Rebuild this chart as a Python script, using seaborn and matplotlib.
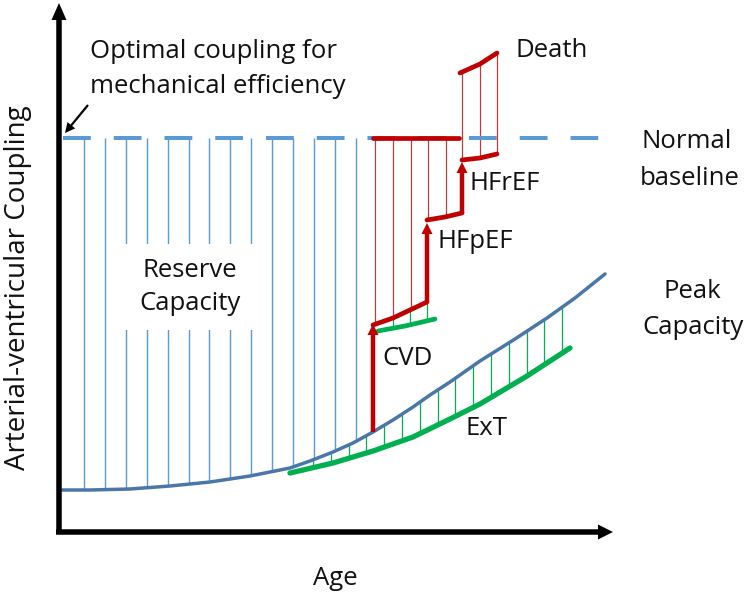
import numpy as np
import pandas as pd
import matplotlib
matplotlib.use("Agg")
import matplotlib.pyplot as plt
import seaborn as sns

# ---------------- data (age units, coupling units) ----------------
peak_age = [1, 31, 71, 111, 151, 191, 231, 251, 274, 294, 314, 334, 354, 371, 391, 421, 456, 488, 516, 546]
peak_coupling = [41, 41, 42, 45, 49, 55, 63, 70, 79, 88, 99, 111, 124, 136, 149, 170, 192, 213, 233, 257]

ext_age = [231, 274, 314, 354, 391, 421, 468, 511]
ext_coupling = [58, 68, 80, 94, 112, 127, 155, 183]

baseline_coupling = 393
baseline_age = [4, 560]

cvd_age = [314, 334, 351, 368]
cvd_coupling = [206, 213, 221, 229]
cvd_green_age = [319, 346, 376]
cvd_green_coupling = [200, 205, 212]
hfpef_age = [368, 386, 403]
hfpef_coupling = [311, 314, 318]
hfref_age = [403, 421, 438]
hfref_coupling = [371, 373, 377]
death_age = [401, 421, 438]
death_coupling = [458, 467, 478]
red_base_age = [314, 400]

# ---------------- style ----------------
sns.set_style("white")
plt.rcParams["font.family"] = ["Open Sans", "DejaVu Sans"]

BLUE_CURVE = "#4a76a8"
BLUE_LIGHT = "#5b9bd5"
RED = "#c00000"
RED_THIN = "#cc3333"
GREEN = "#00b050"
TXT = "#111111"
FS = 18.5

fig = plt.figure(figsize=(7.55, 5.95), dpi=100)
ax = fig.add_axes([0, 0, 1, 1])
ax.set_xlim(-59, 696)
ax.set_ylim(-64, 531)
ax.axis("off")

# reserve capacity hatching (blue)
hx = np.arange(25, 300, 20.9)
ax.vlines(hx, np.interp(hx, peak_age, peak_coupling), baseline_coupling,
          color=BLUE_LIGHT, lw=1.0, zorder=1)

# green ExT hatching
gx = np.arange(254, 506, 17.8)
ax.vlines(gx, np.interp(gx, ext_age, ext_coupling), np.interp(gx, peak_age, peak_coupling),
          color=GREEN, lw=0.9, zorder=1)

# red hatching (disease)
rx = np.arange(316, 395, 17.8)
rbottom = np.where(rx < 368, np.interp(rx, cvd_age, cvd_coupling),
                   np.interp(rx, hfpef_age, hfpef_coupling))
ax.vlines(rx, rbottom, baseline_coupling, color=RED_THIN, lw=0.85, zorder=1)
dx = np.array([403, 421, 438])
ax.vlines(dx, np.interp(dx, hfref_age, hfref_coupling), np.interp(dx, death_age, death_coupling),
          color=RED_THIN, lw=0.85, zorder=1)
cgx = np.array([334, 351, 368])
ax.vlines(cgx, np.interp(cgx, cvd_green_age, cvd_green_coupling), np.interp(cgx, cvd_age, cvd_coupling),
          color=GREEN, lw=0.9, zorder=1)

# normal baseline dashed
sns.lineplot(x=baseline_age, y=[baseline_coupling] * 2, ax=ax, color=BLUE_LIGHT, lw=2.9,
             linestyle=(0, (6.9, 5.7)), estimator=None, zorder=2)
ax.lines[-1].set_dash_capstyle("butt")

# peak capacity curve
sns.lineplot(x=peak_age, y=peak_coupling, ax=ax, color=BLUE_CURVE, lw=2.5,
             estimator=None, sort=False, zorder=3)
# ExT curve
sns.lineplot(x=ext_age, y=ext_coupling, ax=ax, color=GREEN, lw=3.8,
             estimator=None, sort=False, zorder=3)
sns.lineplot(x=cvd_green_age, y=cvd_green_coupling, ax=ax, color=GREEN, lw=3.4,
             estimator=None, sort=False, zorder=3)

# red disease path
for a, c in [(cvd_age, cvd_coupling), (hfpef_age, hfpef_coupling),
             (hfref_age, hfref_coupling), (death_age, death_coupling),
             (red_base_age, [baseline_coupling] * 2)]:
    sns.lineplot(x=a, y=c, ax=ax, color=RED, lw=3.4, estimator=None, sort=False, zorder=4)

def red_arrow(x, y0, y1):
    ax.arrow(x, y0, 0, y1 - y0, width=4.5, head_width=11, head_length=11,
             length_includes_head=True, color=RED, lw=0, zorder=4)

red_arrow(cvd_age[0], np.interp(cvd_age[0], peak_age, peak_coupling), cvd_coupling[0] + 1)
red_arrow(hfpef_age[0], cvd_coupling[-1], hfpef_coupling[0] - 3)
red_arrow(hfref_age[0], hfpef_coupling[-1], hfref_coupling[0] - 2)

# axes arrows
ax.arrow(0, -3, 0, 531, width=5.5, head_width=15, head_length=17,
         length_includes_head=True, color="black", lw=0, zorder=5)
ax.arrow(-3, -1, 557, 0, width=5.5, head_width=15, head_length=15,
         length_includes_head=True, color="black", lw=0, zorder=5)

# annotation arrow
ax.arrow(29, 426, -23, -28, width=2.2, head_width=10, head_length=10,
         length_includes_head=True, color="black", lw=0, zorder=5)

# ---------------- text ----------------
def t(x, y, s, **kw):
    kw.setdefault("fontsize", FS)
    kw.setdefault("color", TXT)
    kw.setdefault("va", "baseline")
    kw.setdefault("ha", "left")
    ax.text(x, y, s, **kw)

t(31, 473, "Optimal coupling for")
t(31, 438, "mechanical efficiency")
t(456, 474, "Death")
t(583, 383, "Normal")
t(581, 346, "baseline")
t(411, 341, "HFrEF")
t(379, 283, "HFpEF")
t(323, 166, "CVD")
t(406, 96, "ExT")
t(604, 233, "Peak")
t(583, 197, "Capacity")
t(276, -54, "Age", ha="center")
ax.text(131, 244, "Reserve\nCapacity", fontsize=FS, color=TXT, ha="center", va="center",
        multialignment="center", linespacing=1.4,
        bbox=dict(facecolor="white", edgecolor="none", boxstyle="square,pad=0.55"), zorder=3)
ax.text(-41, 243, "Arterial-ventricular Coupling", fontsize=20, color=TXT,
        rotation=90, ha="center", va="center")

fig.savefig("out.png", dpi=100)
